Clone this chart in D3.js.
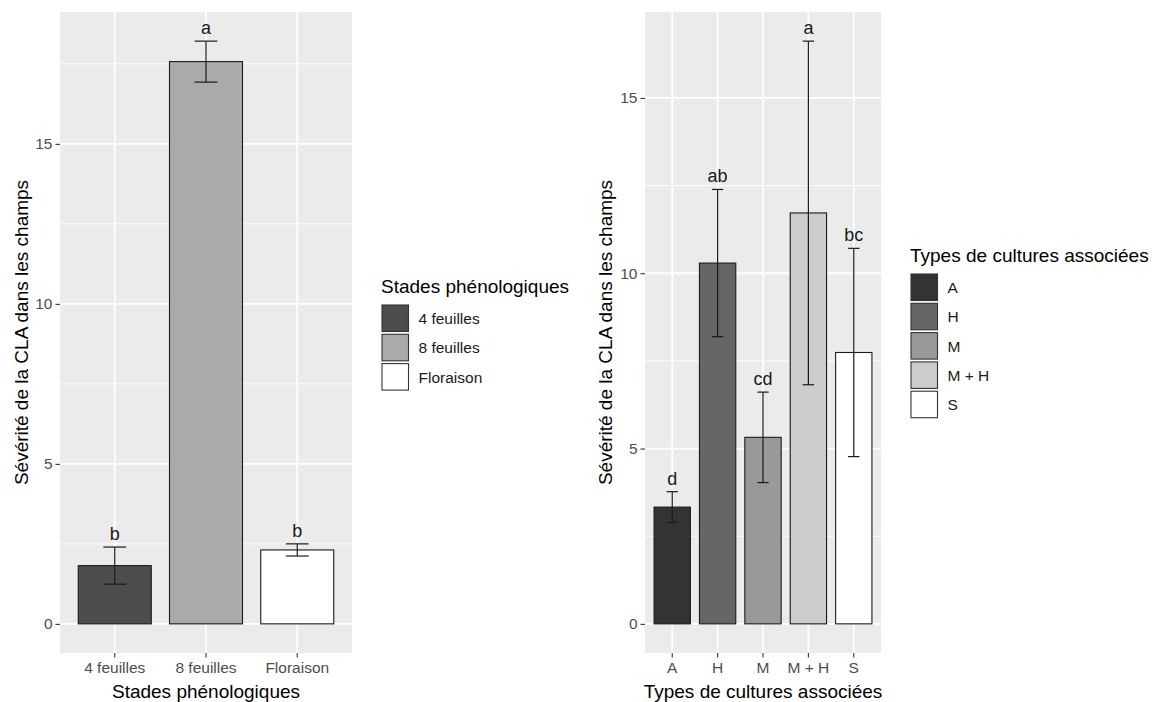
<!DOCTYPE html>
<html>
<head>
<meta charset="utf-8">
<script src="https://cdn.jsdelivr.net/npm/d3@7"></script>
<style>
  body { margin: 0; background: #fff; }
  text { font-family: "Liberation Sans", Arial, sans-serif; }
</style>
</head>
<body>
<div id="chart"></div>
<script>
// left panel data: stades phénologiques
var stades = ["4 feuilles", "8 feuilles", "Floraison"],
    stadesMoy = [1.82, 17.57, 2.31],
    stadesEs = [0.58, 0.64, 0.19],
    stadesLettres = ["b", "a", "b"];

// right panel data: types de cultures associées
var cultures = ["A", "H", "M", "M + H", "S"],
    culturesMoy = [3.33, 10.29, 5.32, 11.72, 7.74],
    culturesEs = [0.44, 2.1, 1.29, 4.9, 2.97],
    culturesLettres = ["d", "ab", "cd", "a", "bc"];

var yTitre = "Sévérité de la CLA dans les champs";

var svg = d3.select("#chart").append("svg")
    .attr("width", 1152)
    .attr("height", 702);

function drawPanel(opt) {
    var data = opt.cats.map(function(c, i) {
        return {cat: c, moy: opt.moy[i], es: opt.es[i], lettre: opt.lettres[i]};
    });

    var x = d3.scaleBand()
        .domain(opt.cats)
        .range([opt.left, opt.right])
        .paddingInner(0.2)
        .paddingOuter(0.2);

    // ggplot-like expansion of 5% round 0..max
    var yMax = d3.max(data, function(d) { return d.moy + d.es; });
    var y = d3.scaleLinear()
        .domain([-0.05 * yMax, yMax * 1.05])
        .range([opt.bottom, opt.top]);

    var fill = d3.scaleOrdinal().domain(opt.cats).range(opt.couleurs);
    var g = svg.append("g");

    // panel background
    g.append("rect")
        .attr("x", opt.left).attr("y", opt.top)
        .attr("width", opt.right - opt.left)
        .attr("height", opt.bottom - opt.top)
        .attr("fill", "#EBEBEB");

    var majors = y.ticks(4),
        step = majors[1] - majors[0],
        minors = majors.map(function(t) { return t + step / 2; })
            .filter(function(t) { return t > y.domain()[0] && t < y.domain()[1]; });

    g.selectAll(".minor").data(minors).enter().append("line")
        .attr("x1", opt.left).attr("x2", opt.right)
        .attr("y1", y).attr("y2", y)
        .attr("stroke", "#fff").attr("stroke-width", 0.9);

    g.selectAll(".major").data(majors).enter().append("line")
        .attr("x1", opt.left).attr("x2", opt.right)
        .attr("y1", y).attr("y2", y)
        .attr("stroke", "#fff").attr("stroke-width", 1.8);

    g.selectAll(".vgrid").data(opt.cats).enter().append("line")
        .attr("x1", function(d) { return x(d) + x.bandwidth() / 2; })
        .attr("x2", function(d) { return x(d) + x.bandwidth() / 2; })
        .attr("y1", opt.top).attr("y2", opt.bottom)
        .attr("stroke", "#fff").attr("stroke-width", 1.8);

    // bars
    g.selectAll(".bar").data(data).enter().append("rect")
        .attr("x", function(d) { return x(d.cat); })
        .attr("width", x.bandwidth())
        .attr("y", function(d) { return y(d.moy); })
        .attr("height", function(d) { return y(0) - y(d.moy); })
        .attr("fill", function(d) { return fill(d.cat); })
        .attr("stroke", "#1a1a1a").attr("stroke-width", 1.1);

    // error bars
    var cap = x.step() * 0.25 / 2;
    var eb = g.selectAll(".eb").data(data).enter().append("g")
        .attr("stroke", "#1a1a1a").attr("stroke-width", 1.2);
    eb.append("line")
        .attr("x1", function(d) { return x(d.cat) + x.bandwidth() / 2; })
        .attr("x2", function(d) { return x(d.cat) + x.bandwidth() / 2; })
        .attr("y1", function(d) { return y(d.moy - d.es); })
        .attr("y2", function(d) { return y(d.moy + d.es); });
    [-1, 1].forEach(function(s) {
        eb.append("line")
            .attr("x1", function(d) { return x(d.cat) + x.bandwidth() / 2 - cap; })
            .attr("x2", function(d) { return x(d.cat) + x.bandwidth() / 2 + cap; })
            .attr("y1", function(d) { return y(d.moy + s * d.es); })
            .attr("y2", function(d) { return y(d.moy + s * d.es); });
    });

    // letters
    g.selectAll(".lettre").data(data).enter().append("text")
        .attr("x", function(d) { return x(d.cat) + x.bandwidth() / 2; })
        .attr("y", function(d) { return y(d.moy + d.es) - 7; })
        .attr("text-anchor", "middle")
        .attr("font-size", 18)
        .attr("fill", "#1a1a1a")
        .text(function(d) { return d.lettre; });

    // axes
    var yAxis = g.append("g")
        .attr("transform", "translate(" + opt.left + ",0)")
        .call(d3.axisLeft(y).tickValues(majors).tickSize(4.5).tickPadding(3));
    var xAxis = g.append("g")
        .attr("transform", "translate(0," + opt.bottom + ")")
        .call(d3.axisBottom(x).tickSize(4.5).tickPadding(4));
    [yAxis, xAxis].forEach(function(a) {
        a.select(".domain").remove();
        a.selectAll(".tick line").attr("stroke", "#333").attr("stroke-width", 1.1);
        a.selectAll(".tick text")
            .attr("fill", "#4D4D4D")
            .attr("font-size", 15.5)
            .style("font-family", "'Liberation Sans', Arial, sans-serif");
    });

    // axis titles
    g.append("text")
        .attr("x", (opt.left + opt.right) / 2)
        .attr("y", 698)
        .attr("text-anchor", "middle")
        .attr("font-size", 19)
        .text(opt.xTitre);
    g.append("text")
        .attr("transform", "translate(" + opt.yTitreX + "," + (opt.top + opt.bottom) / 2 + ") rotate(-90)")
        .attr("text-anchor", "middle")
        .attr("font-size", 19)
        .text(yTitre);

    // legend
    var lg = g.append("g")
        .attr("transform", "translate(" + opt.legX + "," + opt.legY + ")");
    lg.append("text")
        .attr("x", 0).attr("y", 0)
        .attr("font-size", 19)
        .text(opt.xTitre);
    var keyStep = 29.3;
    var items = lg.selectAll(".item").data(opt.cats).enter().append("g")
        .attr("transform", function(d, i) { return "translate(0," + (11 + i * keyStep) + ")"; });
    items.append("rect")
        .attr("x", 1).attr("y", 1)
        .attr("width", 26.5).attr("height", 26.5)
        .attr("fill", function(d) { return fill(d); })
        .attr("stroke", "#333").attr("stroke-width", 1.1);
    items.append("text")
        .attr("x", 37.5).attr("y", 20)
        .attr("font-size", 15.5)
        .attr("fill", "#1a1a1a")
        .text(function(d) { return d; });
}

drawPanel({
    cats: stades, moy: stadesMoy, es: stadesEs, lettres: stadesLettres,
    couleurs: ["#4D4D4D", "#AAAAAA", "#FFFFFF"],
    left: 60, right: 352, top: 12, bottom: 653,
    xTitre: "Stades phénologiques", yTitreX: 28,
    legX: 381, legY: 293
});

drawPanel({
    cats: cultures, moy: culturesMoy, es: culturesEs, lettres: culturesLettres,
    couleurs: ["#333333", "#666666", "#999999", "#CCCCCC", "#FFFFFF"],
    left: 645, right: 881, top: 12, bottom: 653,
    xTitre: "Types de cultures associées", yTitreX: 612,
    legX: 910, legY: 262
});
</script>
</body>
</html>
